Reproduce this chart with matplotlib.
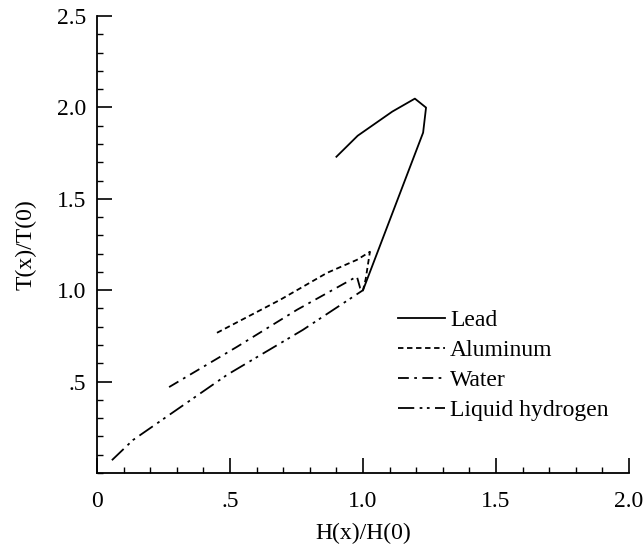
import matplotlib
matplotlib.use("Agg")
import matplotlib.pyplot as plt
from matplotlib.ticker import MultipleLocator, FixedLocator, FuncFormatter

plt.rcParams["font.family"] = ["Liberation Serif", "DejaVu Serif"]

# ── Dati ───────────────────────────────────────────────────────────────────────
lead_x = [0.90, 0.98, 1.11, 1.195, 1.237, 1.226, 1.0]
lead_y = [1.73, 1.845, 1.977, 2.048, 1.999, 1.862, 1.0]

alu_x = [0.451, 0.688, 0.865, 0.977, 1.026, 1.01, 1.0]
alu_y = [0.767, 0.947, 1.095, 1.166, 1.21, 1.06, 1.0]

water_x = [0.271, 0.526, 0.752, 0.977, 0.989, 1.0]
water_y = [0.47, 0.69, 0.893, 1.075, 1.013, 1.0]

h2_x = [0.056, 0.135, 0.489, 0.774, 1.0]
h2_y = [0.07, 0.18, 0.537, 0.783, 1.0]

x_ticks = [0, 0.5, 1.0, 1.5, 2.0]
y_ticks = [0.5, 1.0, 1.5, 2.0, 2.5]

# ── Figura ─────────────────────────────────────────────────────────────────────
fig = plt.figure(figsize=(6.43, 5.45), dpi=100)
ax = fig.add_axes([97 / 643, 72 / 545, 532 / 643, 457 / 545])

lw = 1.3
ax.plot(lead_x, lead_y, color="black", lw=lw, label="Lead")
ax.plot(alu_x, alu_y, color="black", lw=lw, dashes=(3, 2), label="Aluminum")
ax.plot(water_x, water_y, color="black", lw=lw, dashes=(6, 3, 1.5, 3),
        label="Water")
ax.plot(h2_x, h2_y, color="black", lw=lw,
        dashes=(9, 3, 1.5, 2.5, 1.5, 3), label="Liquid hydrogen")

ax.set_xlim(0, 2.0)
ax.set_ylim(0, 2.5)

for s in ("top", "right"):
    ax.spines[s].set_visible(False)
for s in ("left", "bottom"):
    ax.spines[s].set_linewidth(1.3)

ax.xaxis.set_major_locator(FixedLocator(x_ticks))
ax.yaxis.set_major_locator(FixedLocator(y_ticks))
ax.xaxis.set_minor_locator(MultipleLocator(0.1))
ax.yaxis.set_minor_locator(MultipleLocator(0.1))

def fmt(v, pos):
    if abs(v) < 1e-9:
        return "0"
    s = f"{v:.1f}"
    return s[1:] if s.startswith("0.") else s

ax.xaxis.set_major_formatter(FuncFormatter(fmt))
ax.yaxis.set_major_formatter(FuncFormatter(fmt))

ax.tick_params(which="major", direction="in", length=11, width=1.2,
               labelsize=17)
ax.tick_params(which="minor", direction="in", length=4.5, width=1.0)
ax.tick_params(axis="x", which="major", pad=13)
ax.tick_params(axis="y", which="major", pad=8)

ax.set_xlabel("H(x)/H(0)", fontsize=17, labelpad=8)
ax.set_ylabel("T(x)/T(0)", fontsize=17, labelpad=14)

leg = ax.legend(loc="upper left", bbox_to_anchor=(0.566, 0.358), frameon=False,
                fontsize=17, handlelength=2.0, handletextpad=0.2,
                labelspacing=0.36, borderaxespad=0, borderpad=0)

fig.savefig("out.png", dpi=100)
plt.close(fig)
